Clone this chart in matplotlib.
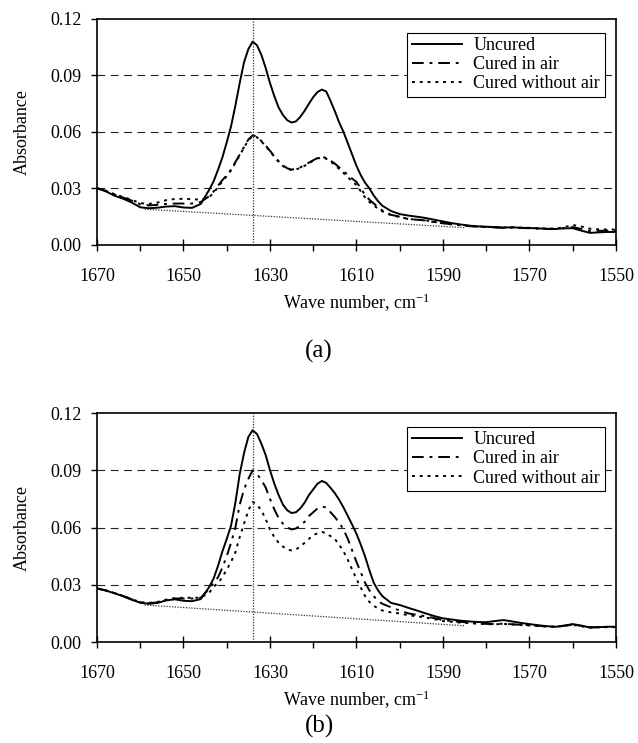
import numpy as np
import matplotlib.pyplot as plt
from matplotlib.ticker import FixedLocator, MultipleLocator, FormatStrFormatter

plt.rcParams['font.family'] = ['Liberation Serif', 'DejaVu Serif']
plt.rcParams['mathtext.fontset'] = 'custom'
plt.rcParams['mathtext.rm'] = 'Liberation Serif'
plt.rcParams['mathtext.it'] = 'Liberation Serif:italic'

# wave numbers (cm-1) shared by all spectra
wn = [1670, 1668, 1666, 1664, 1662, 1660, 1658, 1656, 1654, 1652,
      1650, 1648, 1646, 1644, 1643, 1642, 1641, 1640, 1639, 1638,
      1637, 1636, 1635, 1634, 1633, 1632, 1631, 1630, 1629, 1628,
      1627, 1626, 1625, 1624, 1623, 1622, 1621, 1620, 1619, 1618,
      1617, 1616, 1615, 1614, 1613, 1612, 1611, 1610, 1609, 1608,
      1607, 1606, 1605, 1604, 1602, 1600, 1598, 1596, 1594, 1592,
      1590, 1588, 1586, 1584, 1582, 1580, 1578, 1576, 1574, 1572,
      1570, 1568, 1566, 1564, 1562, 1560, 1558, 1556, 1554, 1552,
      1550]

# (a)
uncured_a = [0.0303, 0.0285, 0.0262, 0.0246, 0.0226, 0.0200, 0.0195, 0.0198, 0.0204, 0.0206,
             0.0199, 0.0197, 0.0218, 0.0295, 0.0340, 0.0400, 0.0465, 0.0545, 0.0630, 0.0740,
             0.0860, 0.0970, 0.1040, 0.1080, 0.1060, 0.1010, 0.0940, 0.0860, 0.0790, 0.0730,
             0.0690, 0.0662, 0.0650, 0.0656, 0.0680, 0.0712, 0.0750, 0.0785, 0.0812, 0.0825,
             0.0815, 0.0765, 0.0710, 0.0650, 0.0600, 0.0540, 0.0480, 0.0420, 0.0370, 0.0330,
             0.0300, 0.0262, 0.0232, 0.0208, 0.0180, 0.0164, 0.0156, 0.0150, 0.0143, 0.0134,
             0.0125, 0.0116, 0.0109, 0.0103, 0.0099, 0.0097, 0.0095, 0.0092, 0.0094, 0.0091,
             0.0090, 0.0088, 0.0086, 0.0085, 0.0088, 0.0089, 0.0076, 0.0064, 0.0067, 0.0069,
             0.0069]
air_a = [0.0300, 0.0287, 0.0268, 0.0252, 0.0236, 0.0216, 0.0210, 0.0213, 0.0218, 0.0220,
         0.0220, 0.0220, 0.0228, 0.0260, 0.0285, 0.0315, 0.0345, 0.0370, 0.0400, 0.0440,
         0.0480, 0.0520, 0.0560, 0.0582, 0.0575, 0.0552, 0.0528, 0.0500, 0.0472, 0.0445,
         0.0422, 0.0407, 0.0400, 0.0404, 0.0412, 0.0423, 0.0437, 0.0450, 0.0462, 0.0468,
         0.0462, 0.0448, 0.0432, 0.0412, 0.0392, 0.0372, 0.0352, 0.0335, 0.0300, 0.0265,
         0.0240, 0.0220, 0.0200, 0.0183, 0.0160, 0.0150, 0.0137, 0.0134, 0.0130, 0.0121,
         0.0115, 0.0110, 0.0105, 0.0100, 0.0097, 0.0095, 0.0093, 0.0091, 0.0092, 0.0090,
         0.0089, 0.0087, 0.0085, 0.0085, 0.0090, 0.0095, 0.0085, 0.0074, 0.0075, 0.0076,
         0.0076]
noair_a = [0.0301, 0.0288, 0.0270, 0.0255, 0.0240, 0.0222, 0.0218, 0.0225, 0.0238, 0.0244,
           0.0245, 0.0243, 0.0240, 0.0255, 0.0278, 0.0308, 0.0338, 0.0365, 0.0396, 0.0436,
           0.0476, 0.0517, 0.0556, 0.0578, 0.0572, 0.0550, 0.0525, 0.0497, 0.0468, 0.0441,
           0.0419, 0.0404, 0.0398, 0.0401, 0.0409, 0.0420, 0.0434, 0.0447, 0.0459, 0.0465,
           0.0458, 0.0443, 0.0425, 0.0403, 0.0382, 0.0360, 0.0338, 0.0318, 0.0285, 0.0252,
           0.0228, 0.0210, 0.0192, 0.0178, 0.0158, 0.0149, 0.0138, 0.0134, 0.0131, 0.0122,
           0.0116, 0.0110, 0.0105, 0.0101, 0.0098, 0.0096, 0.0094, 0.0093, 0.0094, 0.0092,
           0.0091, 0.0089, 0.0087, 0.0087, 0.0094, 0.0106, 0.0098, 0.0086, 0.0083, 0.0082,
           0.0082]

# (b)
uncured_b = [0.0280, 0.0270, 0.0256, 0.0240, 0.0222, 0.0206, 0.0200, 0.0205, 0.0218, 0.0224,
             0.0216, 0.0214, 0.0225, 0.0290, 0.0335, 0.0400, 0.0475, 0.0540, 0.0610, 0.0730,
             0.0880, 0.0990, 0.1075, 0.1110, 0.1090, 0.1040, 0.0980, 0.0900, 0.0830, 0.0770,
             0.0720, 0.0690, 0.0676, 0.0680, 0.0700, 0.0730, 0.0770, 0.0800, 0.0830, 0.0844,
             0.0834, 0.0808, 0.0780, 0.0745, 0.0705, 0.0660, 0.0615, 0.0567, 0.0510, 0.0447,
             0.0375, 0.0310, 0.0270, 0.0240, 0.0205, 0.0194, 0.0179, 0.0165, 0.0150, 0.0136,
             0.0124, 0.0118, 0.0112, 0.0108, 0.0105, 0.0104, 0.0110, 0.0115, 0.0108, 0.0100,
             0.0094, 0.0088, 0.0083, 0.0080, 0.0085, 0.0094, 0.0086, 0.0076, 0.0078, 0.0080,
             0.0080]
air_b = [0.0281, 0.0271, 0.0257, 0.0242, 0.0224, 0.0208, 0.0203, 0.0208, 0.0220, 0.0228,
         0.0228, 0.0228, 0.0232, 0.0280, 0.0310, 0.0340, 0.0390, 0.0450, 0.0520, 0.0600,
         0.0720, 0.0800, 0.0855, 0.0900, 0.0880, 0.0850, 0.0810, 0.0750, 0.0695, 0.0650,
         0.0620, 0.0600, 0.0590, 0.0595, 0.0610, 0.0630, 0.0660, 0.0680, 0.0700, 0.0710,
         0.0705, 0.0680, 0.0655, 0.0625, 0.0590, 0.0540, 0.0480, 0.0420, 0.0365, 0.0310,
         0.0270, 0.0240, 0.0215, 0.0200, 0.0182, 0.0165, 0.0150, 0.0142, 0.0135, 0.0125,
         0.0115, 0.0110, 0.0106, 0.0102, 0.0098, 0.0095, 0.0094, 0.0096, 0.0093, 0.0090,
         0.0088, 0.0085, 0.0082, 0.0080, 0.0086, 0.0092, 0.0084, 0.0077, 0.0078, 0.0079,
         0.0079]
noair_b = [0.0281, 0.0271, 0.0257, 0.0242, 0.0225, 0.0209, 0.0205, 0.0210, 0.0222, 0.0230,
           0.0232, 0.0232, 0.0232, 0.0260, 0.0290, 0.0310, 0.0340, 0.0380, 0.0420, 0.0470,
           0.0550, 0.0620, 0.0690, 0.0734, 0.0720, 0.0690, 0.0645, 0.0590, 0.0550, 0.0520,
           0.0500, 0.0485, 0.0480, 0.0485, 0.0500, 0.0520, 0.0540, 0.0560, 0.0570, 0.0577,
           0.0570, 0.0555, 0.0540, 0.0510, 0.0475, 0.0430, 0.0380, 0.0330, 0.0285, 0.0240,
           0.0210, 0.0190, 0.0175, 0.0165, 0.0155, 0.0150, 0.0140, 0.0135, 0.0128, 0.0120,
           0.0110, 0.0106, 0.0102, 0.0099, 0.0096, 0.0094, 0.0093, 0.0095, 0.0092, 0.0089,
           0.0087, 0.0084, 0.0081, 0.0079, 0.0085, 0.0090, 0.0082, 0.0076, 0.0077, 0.0078,
           0.0078]

# straight baselines under the C=C band and the peak position
base_wn = [1659, 1585]
base_a = [0.0190, 0.0092]
base_b = [0.0194, 0.0085]
peak_wn = 1634

xticks = [1670, 1650, 1630, 1610, 1590, 1570, 1550]
labels = ['Uncured', 'Cured in air', 'Cured without air']
fs = 13


def draw_panel(ax, ys, base):
    ax.plot(wn, ys[0], color='black', lw=1.4, label=labels[0])
    ax.plot(wn, ys[1], color='black', lw=1.4, dashes=(6, 3, 1.5, 3), label=labels[1])
    ax.plot(wn, ys[2], color='black', lw=1.4, dashes=(1.5, 2.5), label=labels[2])
    ax.plot(base_wn, base, color='#333333', lw=0.9, dashes=(1, 1.2))
    ax.axvline(peak_wn, color='#333333', lw=0.9, dashes=(1, 1.2))
    for yv in (0.03, 0.06, 0.09):
        ax.axhline(yv, color='#222222', lw=0.8, dashes=(7, 5), zorder=0)

    ax.set_xlim(1670, 1550)
    ax.set_ylim(0, 0.12)
    ax.xaxis.set_major_locator(FixedLocator(xticks))
    ax.xaxis.set_minor_locator(MultipleLocator(10))
    ax.yaxis.set_major_locator(MultipleLocator(0.03))
    ax.yaxis.set_major_formatter(FormatStrFormatter('%.2f'))
    ax.tick_params(axis='x', which='major', direction='inout', length=9, width=1,
                   pad=12, labelsize=fs)
    ax.tick_params(axis='x', which='minor', direction='out', length=4, width=1)
    ax.tick_params(axis='y', direction='out', length=4, width=1, pad=7, labelsize=fs)
    for sp in ax.spines.values():
        sp.set_linewidth(1.2)
    ax.set_ylabel('Absorbance', fontsize=fs, labelpad=14)
    ax.set_xlabel('Wave number, cm$^{-1}$', fontsize=fs, labelpad=5)
    leg = ax.legend(loc='upper right', bbox_to_anchor=(0.978, 0.94), borderaxespad=0,
                    fontsize=fs, frameon=True, fancybox=False, framealpha=1,
                    edgecolor='black', handlelength=2.8, handletextpad=0.6,
                    labelspacing=0.12, borderpad=0.25)
    leg.get_frame().set_linewidth(0.8)


fig = plt.figure(figsize=(6.38, 7.43), dpi=100)
ax1 = fig.add_axes([0.152, 0.6703, 0.8135, 0.3042])
ax2 = fig.add_axes([0.152, 0.1359, 0.8135, 0.3082])

draw_panel(ax1, [uncured_a, air_a, noair_a], base_a)
draw_panel(ax2, [uncured_b, air_b, noair_b], base_b)

fig.text(0.5, 1 - 351 / 743, '(a)', ha='center', va='center', fontsize=18)
fig.text(0.5, 1 - 726 / 743, '(b)', ha='center', va='center', fontsize=18)

fig.savefig('out.png', dpi=100)
